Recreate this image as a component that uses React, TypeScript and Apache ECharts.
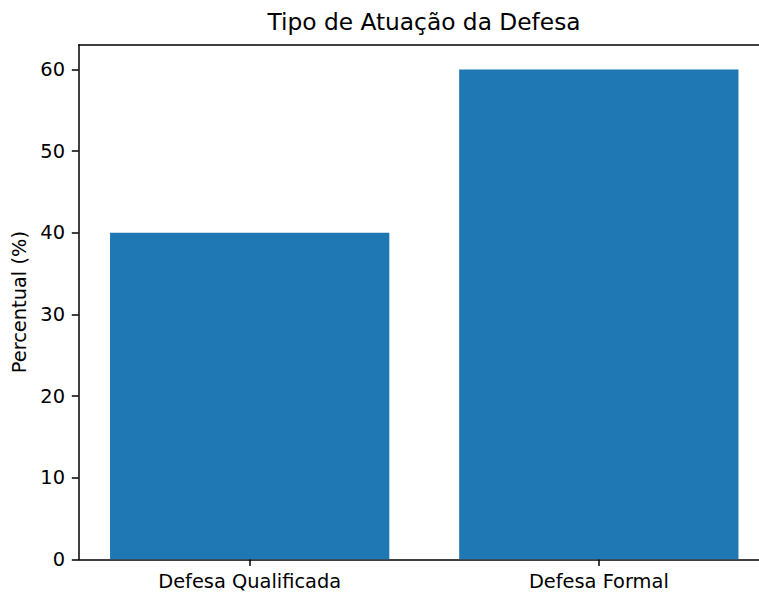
import React, { useEffect, useRef } from "react";
import * as echarts from "echarts";

const categories = ["Defesa Qualificada", "Defesa Formal"];
const categoryPositions = [0, 1];
const values = [40, 60];
const yTicks = [0, 10, 20, 30, 40, 50, 60];
const titleText = "Tipo de Atuação da Defesa";
const yName = "Percentual (%)";

export default function App() {
  const ref = useRef<HTMLDivElement>(null);
  useEffect(() => {
    if (!ref.current) return;
    const chart = echarts.init(ref.current, null, { renderer: "svg" });
    const font = "DejaVu Sans";
    const lineStyle = { color: "#000", width: 1.5 };
    chart.setOption({
      animation: false,
      backgroundColor: "#ffffff",
      title: {
        text: titleText,
        left: 424,
        textAlign: "center",
        top: 10,
        padding: 0,
        textStyle: { fontFamily: font, fontSize: 23.3, fontWeight: "normal", color: "#000" },
      },
      grid: { left: 78.6, width: 691.3, top: 45, bottom: 32.7, containLabel: false },
      xAxis: [
        {
          type: "value",
          min: -0.49,
          max: 1.49,
          position: "bottom",
          axisLine: { show: true, onZero: false, lineStyle },
          axisTick: { show: true, length: 6.8, customValues: categoryPositions, lineStyle },
          axisLabel: {
            margin: 13,
            fontFamily: font,
            fontSize: 19.4,
            color: "#000",
            customValues: categoryPositions,
            formatter: (v: number) => categories[Math.round(v)] ?? "",
          },
          splitLine: { show: false },
        },
        {
          type: "value",
          min: -0.49,
          max: 1.49,
          position: "top",
          axisLine: { show: true, onZero: false, lineStyle },
          axisTick: { show: false },
          axisLabel: { show: false },
          splitLine: { show: false },
        },
      ],
      yAxis: {
        type: "value",
        min: 0,
        max: 63,
        interval: 10,
        position: "left",
        name: yName,
        nameLocation: "middle",
        nameGap: 44,
        nameTextStyle: { fontFamily: font, fontSize: 19.4, color: "#000" },
        axisLine: { show: true, onZero: false, lineStyle },
        axisTick: { show: true, length: 6.8, customValues: yTicks, lineStyle },
        axisLabel: { margin: 13.6, fontFamily: font, fontSize: 19.4, color: "#000", customValues: yTicks },
        splitLine: { show: false },
      },
      series: [
        {
          type: "bar",
          xAxisIndex: 0,
          data: categoryPositions.map((p, i) => [p, values[i]]),
          barWidth: 279.3,
          itemStyle: { color: "#1f77b4" },
        },
      ],
    });
    return () => chart.dispose();
  }, []);
  return (
    <div style={{ position: "fixed", left: 0, top: 0, width: 759, height: 592, overflow: "hidden", background: "#fff" }}>
      <div ref={ref} style={{ width: 790, height: 592 }} />
    </div>
  );
}
